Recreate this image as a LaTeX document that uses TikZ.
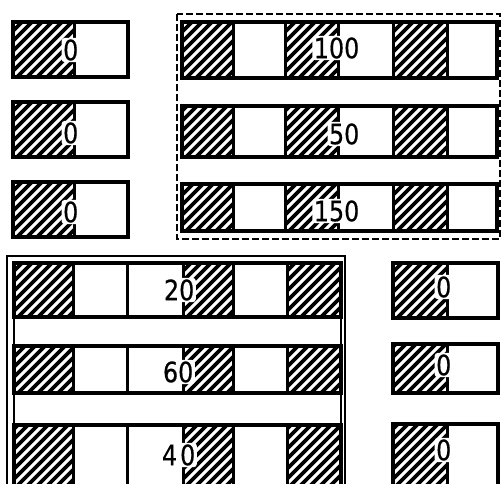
\documentclass[tikz,border=0pt]{standalone}
\usepackage{fontspec}
\newfontfamily\numfont[FakeStretch=0.85,FakeBold=0.6]{DejaVu Sans}
\tikzset{
  boxline/.style={line width=4pt, line join=miter},
  divline/.style={line width=3pt},
  hatchline/.style={line width=3.6pt},
  frameline/.style={line width=2.8pt},
  dashframe/.style={line width=2.6pt, dash pattern=on 7pt off 3pt},
  num/.style={font=\numfont\fontsize{28}{28}\selectfont, fill=white,
    rounded corners=3pt, inner xsep=1.5pt, inner ysep=1.5pt, anchor=east},
}
\newcommand\hatchcell[4]{%
  \begin{scope}
    \clip (#1,#2) rectangle (#3,#4);
    \foreach \k in {-80,-70,...,70}
      \draw[hatchline] ({#1+\k},{#4+4}) -- ++(80,-80);
  \end{scope}}
\begin{document}
\begin{tikzpicture}[x=1pt,y=-1pt]
\useasboundingbox (0,0) rectangle (502,483);
\fill[white] (0,0) rectangle (502,483);

% left small boxes
\foreach \ya/\yb in {22/77,102/157,182/237}{
  \hatchcell{13}{\ya}{74}{\yb}
  \draw[divline] (74,\ya) -- (74,\yb);
  \draw[boxline] (13,\ya) rectangle (128,\yb);
}

% top-right rows
\foreach \ya/\yb in {22/78,106/157,184/231}{
  \hatchcell{182}{\ya}{233}{\yb}
  \hatchcell{285}{\ya}{338}{\yb}
  \hatchcell{393}{\ya}{447}{\yb}
  \foreach \xx in {233,285,338,393,447}
    \draw[divline] (\xx,\ya) -- (\xx,\yb);
  \draw[boxline] (182,\ya) rectangle (497,\yb);
}
\draw[dashframe] (177,14) rectangle (500,239);

% bottom-left frame
\draw[frameline] (7,256) rectangle (345,495);
\draw[frameline] (14,261) -- (14,495);
\draw[frameline] (341,261) -- (341,495);
\foreach \ya/\yb in {263/317,346/393,425/495}{
  \hatchcell{14}{\ya}{73}{\yb}
  \hatchcell{183}{\ya}{233}{\yb}
  \hatchcell{287}{\ya}{341}{\yb}
  \foreach \xx in {73,127,183,233,287}
    \draw[divline] (\xx,\ya) -- (\xx,\yb);
  \draw[boxline] (14,\ya) rectangle (341,\yb);
}

% right small boxes
\foreach \ya/\yb in {263/318,344/393,424/495}{
  \hatchcell{393}{\ya}{447}{\yb}
  \draw[divline] (447,\ya) -- (447,\yb);
  \draw[boxline] (393,\ya) rectangle (498,\yb);
}

% labels
\node[num] (l1) at (80,50) {0};
\node[num] (l2) at (80,133) {0};
\node[num] (l3) at (80,212) {0};
\node[num] (t1) at (361,48) {100};
\node[num] (t2) at (361,134) {50};
\node[num] (t3) at (361,211) {150};
\node[num] (b1) at (196,290) {20};
\node[num] (b2) at (195,372) {60};
\node[num] (b3) at (197,455) {4\kern3pt0};
\node[num] (r1) at (453,287) {0};
\node[num] (r2) at (453,365) {0};
\node[num] (r3) at (453,450) {0};
\end{tikzpicture}
\end{document}
